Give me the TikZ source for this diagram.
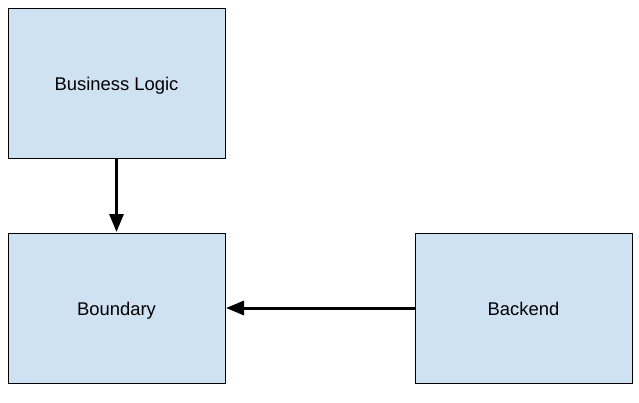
\documentclass[tikz,border=0pt]{standalone}
\usepackage{fontspec}
\setmainfont{Liberation Sans}
\usetikzlibrary{arrows.meta}
\definecolor{boxfill}{HTML}{CFE2F3}
\tikzset{
  blk/.style={draw=black, line width=1pt, fill=boxfill, minimum width=217pt, minimum height=150pt, inner sep=0pt, text height=17.2pt, text depth=2pt, font=\fontsize{18.4}{22}\selectfont},
  conn/.style={line width=3pt, -{Triangle[length=18pt,width=14pt]}, shorten >=0.5pt}
}
\begin{document}
\begin{tikzpicture}[x=1pt,y=-1pt]
\useasboundingbox (0,0) rectangle (639,402);
\node[blk] (logic) at (116.5,83) {Business Logic};
\node[blk] (bound) at (116.5,308) {Boundary};
\node[blk] (back) at (523.5,308) {Backend};
\draw[conn] (logic.south) -- (bound.north);
\draw[conn] (back.west) -- (bound.east);
\end{tikzpicture}
\end{document}
